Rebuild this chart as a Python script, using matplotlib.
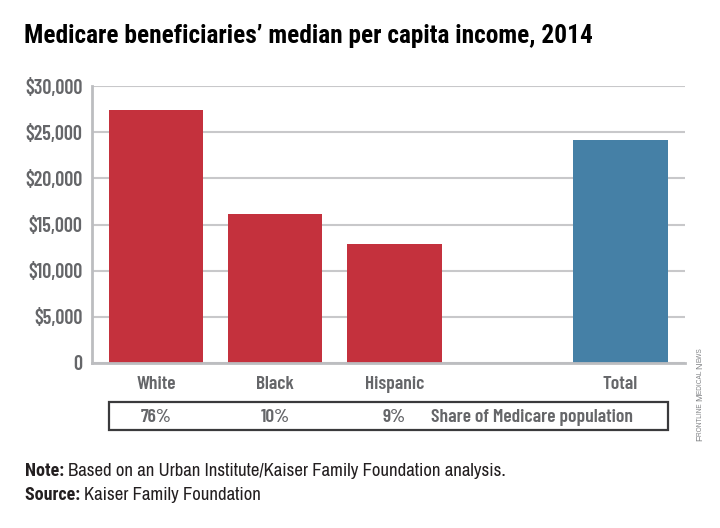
import matplotlib
matplotlib.use("Agg")
import matplotlib.pyplot as plt
from matplotlib.patches import Rectangle

categories = ['White', 'Black', 'Hispanic', 'Total']
income = [27450, 16150, 12850, 24150]
share_labels = ['76%', '10%', '9%']
share_caption = 'Share of Medicare population'
yticks = [0, 5000, 10000, 15000, 20000, 25000, 30000]
ytick_labels = ['0', '$5,000', '$10,000', '$15,000', '$20,000', '$25,000', '$30,000']

title_font = ['Roboto Condensed', 'DejaVu Sans']
label_font = ['Barlow Condensed', 'Roboto Condensed', 'DejaVu Sans']
note_font = ['Archivo Narrow', 'Roboto Condensed', 'DejaVu Sans']
note_bold_font = ['Roboto Condensed', 'DejaVu Sans']

red = '#c4313d'
blue = '#4580a6'
gray_txt = '#656669'

W, H = 720, 528
fig = plt.figure(figsize=(7.2, 5.28), dpi=100)
ax = fig.add_axes([92/W, 1-363/H, (685-92)/W, (363-86)/H])

xpos = [0, 1, 2, 3.895]
colors = [red, red, red, blue]
ax.bar(xpos, income, width=0.79, color=colors, zorder=3)

ax.set_xlim(-0.537, 4.436)
ax.set_ylim(0, 30000)
ax.set_yticks(yticks)
ax.set_yticklabels(ytick_labels, fontfamily=label_font, fontweight=600, fontsize=14.5, color=gray_txt)
ax.tick_params(axis='y', length=0, pad=7)
ax.set_xticks([])
ax.grid(axis='y', color='#c8c8ca', linewidth=1.5, zorder=0)
for s in ['top', 'right']:
    ax.spines[s].set_visible(False)
for s in ['left', 'bottom']:
    ax.spines[s].set_color('#bcbdc0')
    ax.spines[s].set_linewidth(2)
ax.spines['bottom'].set_zorder(4)

# category labels under the bars
xaxis_tr = ax.get_xaxis_transform()
label_y = -(389 - 363) / (363 - 86)
for name, x in zip(categories, xpos):
    ax.text(x, label_y, name, transform=xaxis_tr, ha='center', va='baseline',
            fontfamily=label_font, fontweight=600, fontsize=14, color=gray_txt)

# share table
fig.patches.append(Rectangle((109/W, 1-430/H), (668-109)/W, 28/H,
                             transform=fig.transFigure, fill=False,
                             edgecolor='#3a3a3c', linewidth=1.6))
share_y = -(422 - 363) / (363 - 86)
for lab, x in zip(share_labels, xpos):
    ax.text(x, share_y, lab, transform=xaxis_tr, ha='center', va='baseline',
            fontfamily=label_font, fontweight=600, fontsize=14, color=gray_txt)
fig.text(633/W, 1-422/H, share_caption, ha='right', va='baseline',
         fontfamily=label_font, fontweight=600, fontsize=14, color=gray_txt)

fig.text(24/W, 1-43/H, 'Medicare beneficiaries\u2019 median per capita income, 2014',
         ha='left', va='baseline', fontfamily=title_font, fontweight='bold',
         fontsize=18.3, color='black')

renderer = fig.canvas.get_renderer()
t = fig.text(25/W, 1-476/H, 'Note: ', ha='left', va='baseline', fontfamily=note_bold_font,
             fontweight='bold', fontsize=13, color='#231f20')
w = t.get_window_extent(renderer).width
fig.text((25 + w)/W, 1-476/H, 'Based on an Urban Institute/Kaiser Family Foundation analysis.',
         ha='left', va='baseline', fontfamily=note_font, fontsize=13.5, color='#231f20')
t = fig.text(25/W, 1-500/H, 'Source: ', ha='left', va='baseline', fontfamily=note_bold_font,
             fontweight='bold', fontsize=13, color='#231f20')
w = t.get_window_extent(renderer).width
fig.text((25 + w)/W, 1-500/H, 'Kaiser Family Foundation',
         ha='left', va='baseline', fontfamily=note_font, fontsize=13.5, color='#231f20')

# vertical credit in small caps, built piece by piece from the bottom up
pieces = [('F', 6.4), ('RONTLINE ', 4.7), ('M', 6.4), ('EDICAL ', 4.7), ('N', 6.4), ('EWS', 4.7)]
y = 441.0
for s, size in pieces:
    tx = fig.text(702/W, 1-y/H, s, rotation=90, ha='left', va='baseline',
                  rotation_mode='anchor', fontfamily=['Liberation Sans', 'DejaVu Sans'],
                  fontsize=size, color='#808285')
    y -= tx.get_window_extent(renderer).height

fig.savefig('out.png', dpi=100)
